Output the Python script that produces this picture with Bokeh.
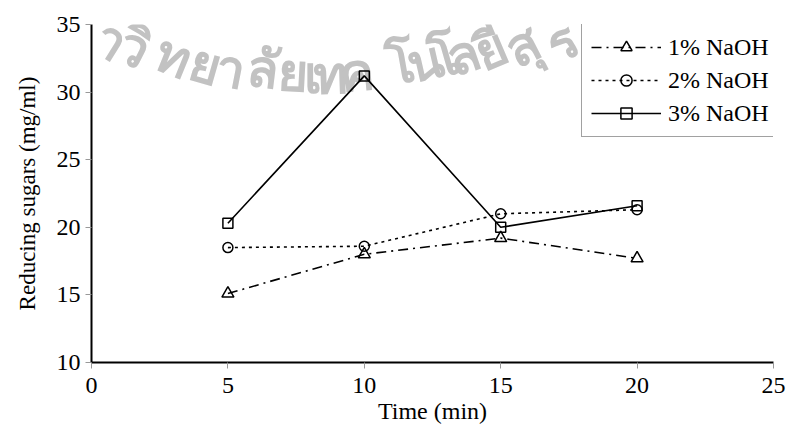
from bokeh.plotting import figure
from bokeh.models import Range1d, FixedTicker, Legend, LegendItem, Label
from bokeh.embed import file_html
from bokeh.resources import INLINE

# ---- data ----
time_min = [5, 10, 15, 20]
naoh_1 = [15.1, 18.0, 19.2, 17.7]
naoh_2 = [18.5, 18.6, 21.0, 21.3]
naoh_3 = [20.3, 31.2, 20.0, 21.6]
x_ticks = [0, 5, 10, 15, 20, 25]
y_ticks = [10, 15, 20, 25, 30, 35]
series_labels = ["1% NaOH", "2% NaOH", "3% NaOH"]

# ---- watermark (decoration) ----
wm_clusters = ["า", "วิ", "ท", "ย", "า", "ลั", "ย", "เ", "ท", "ค", "โ", "น", "โ", "ล", "ยี", "สุ", "ร", "น"]
wm_px = [112, 135, 174, 206, 231, 263, 293, 312, 330, 356, 400, 424, 443, 462, 489, 521, 561, 600]
wm_py = [38, 45, 54, 62, 66, 66, 70, 72, 72, 70, 62, 58, 55, 52, 47, 43, 40, 40]
wm_ang = [-32, -27, -22, -16, -11, -7, -3, 0, 2, 5, 10, 13, 16, 19, 23, 27, 32, 36]

FONT = "Liberation Serif"
W, H = 786, 427
L, R, T, B = 91, 13, 24, 65

p = figure(width=W, height=H, output_backend="svg", toolbar_location=None,
           x_range=Range1d(0, 25), y_range=Range1d(10, 35),
           min_border_left=L, min_border_right=R, min_border_top=T, min_border_bottom=B)
p.outline_line_color = None
p.xgrid.visible = False
p.ygrid.visible = False
p.background_fill_color = "white"
p.border_fill_color = "white"

for txt, px, py, ang in zip(wm_clusters, wm_px, wm_py, wm_ang):
    p.add_layout(Label(x=px - L, y=(H - B) - py, x_units="screen", y_units="screen",
                       text=txt, angle=ang, angle_units="deg",
                       text_font="Noto Sans", text_font_style="bold", text_font_size="52px",
                       text_color="#c2c2c2",
                       text_align="center", text_baseline="middle",
                       level="underlay"))

for ax in (p.xaxis[0], p.yaxis[0]):
    ax.axis_line_color = "black"
    ax.axis_line_width = 2
    ax.major_tick_line_color = "#999999"
    ax.major_tick_line_width = 1
    ax.major_tick_in = 0
    ax.major_tick_out = 6
    ax.minor_tick_line_color = None
    ax.major_label_text_font = FONT
    ax.major_label_text_font_size = "24px"
    ax.major_label_text_color = "black"
    ax.axis_label_text_font = FONT
    ax.axis_label_text_font_size = "24px"
    ax.axis_label_text_font_style = "normal"
    ax.axis_label_text_color = "black"

p.yaxis.axis_label_text_font_size = "23px"
p.xaxis.ticker = FixedTicker(ticks=x_ticks)
p.yaxis.ticker = FixedTicker(ticks=y_ticks)
p.xaxis.axis_label = "Time (min)"
p.yaxis.axis_label = "Reducing sugars (mg/ml)"
p.xaxis.major_label_standoff = 9
p.yaxis.major_label_standoff = 5
p.xaxis.axis_label_standoff = 2
p.yaxis.axis_label_standoff = 14

lw = 1.6
l1 = p.line(time_min, naoh_1, line_color="black", line_width=lw, line_dash="10 5 2 5")
m1 = p.scatter(time_min, naoh_1, marker="triangle", size=12, line_color="black",
               line_width=1.5, fill_color=None)
l2 = p.line(time_min, naoh_2, line_color="black", line_width=lw, line_dash="3 4")
m2 = p.scatter(time_min, naoh_2, marker="circle", size=10, line_color="black",
               line_width=1.5, fill_color=None)
l3 = p.line(time_min, naoh_3, line_color="black", line_width=lw)
m3 = p.scatter(time_min, naoh_3, marker="square", size=10, line_color="black",
               line_width=1.5, fill_color=None)

legend = Legend(items=[LegendItem(label=series_labels[0], renderers=[l1, m1]),
                       LegendItem(label=series_labels[1], renderers=[l2, m2]),
                       LegendItem(label=series_labels[2], renderers=[l3, m3])],
                location=(490, 225))
legend.label_text_font = FONT
legend.label_text_font_size = "24px"
legend.label_text_color = "black"
legend.glyph_width = 70
legend.glyph_height = 28
legend.label_height = 28
legend.label_standoff = 7
legend.spacing = 5
legend.padding = 9
legend.margin = 0
legend.border_line_color = "#444444"
legend.border_line_width = 1
legend.background_fill_color = "white"
legend.background_fill_alpha = 1.0
p.add_layout(legend, "center")

open("out.html", "w").write(file_html(p, INLINE))
